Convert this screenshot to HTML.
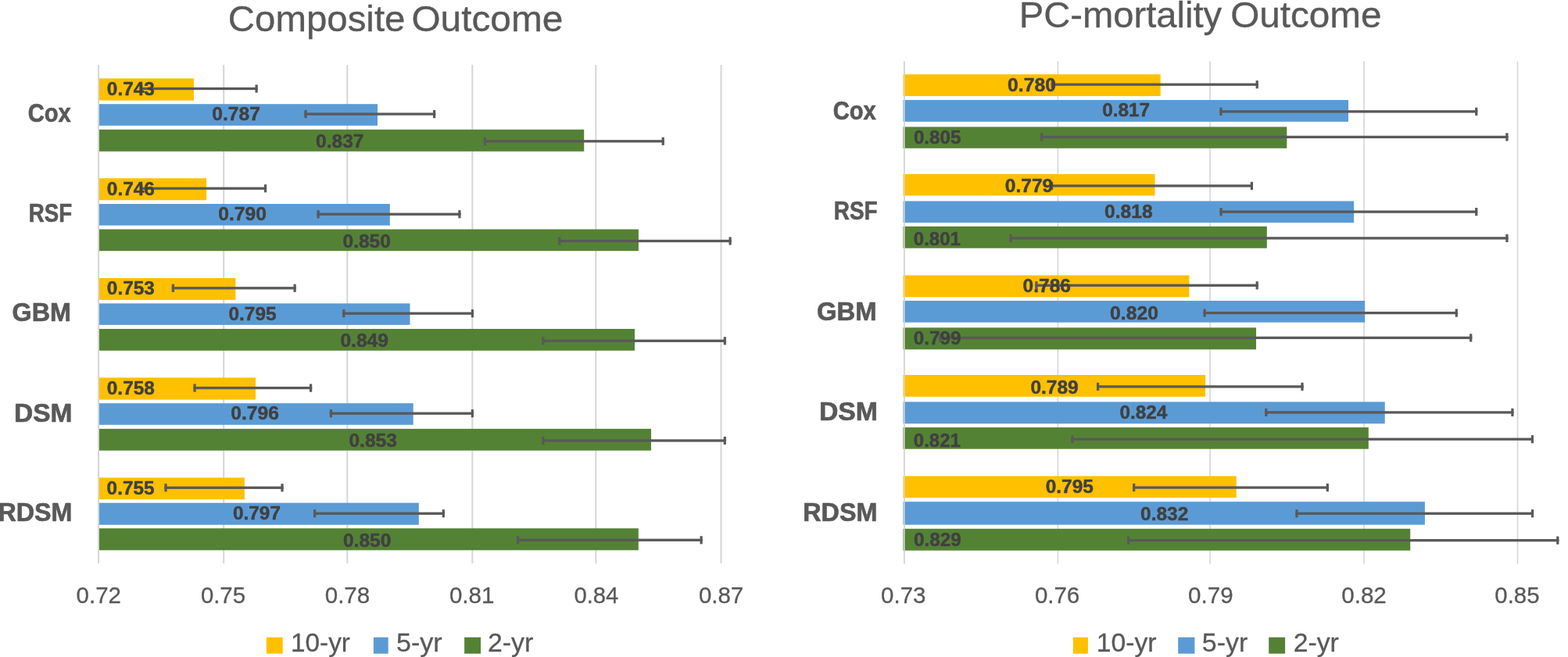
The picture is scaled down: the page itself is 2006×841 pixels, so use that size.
<!DOCTYPE html>
<html lang="en">
<head>
<meta charset="utf-8">
<title>Composite Outcome / PC-mortality Outcome</title>
<style>
html,body{margin:0;padding:0;background:#fff;}
body{width:2006px;height:841px;overflow:hidden;}
svg{display:block;}
svg text{font-family:"Liberation Sans",sans-serif;}
</style>
</head>
<body>
<svg width="2006" height="841" viewBox="0 0 2006 841">
<rect x="0" y="0" width="2006" height="841" fill="#ffffff"/>
<g id="chart0">
<g class="grid">
<path d="M126.10 83.00V721.30" stroke="#D6D6D6" stroke-width="2.0" fill="none"/>
<path d="M286.20 83.00V721.30" stroke="#D6D6D6" stroke-width="2.0" fill="none"/>
<path d="M444.30 83.00V721.30" stroke="#D6D6D6" stroke-width="2.0" fill="none"/>
<path d="M604.30 83.00V721.30" stroke="#D6D6D6" stroke-width="2.0" fill="none"/>
<path d="M762.30 83.00V721.30" stroke="#D6D6D6" stroke-width="2.0" fill="none"/>
<path d="M922.50 83.00V721.30" stroke="#D6D6D6" stroke-width="2.0" fill="none"/>
</g>
<g class="bars">
<rect x="127.00" y="100.40" width="121.00" height="28.20" fill="#FFC000"/>
<rect x="127.00" y="133.20" width="356.00" height="27.60" fill="#5B9BD5"/>
<rect x="127.00" y="165.80" width="620.20" height="28.00" fill="#548235"/>
<rect x="127.00" y="228.20" width="137.10" height="28.00" fill="#FFC000"/>
<rect x="127.00" y="261.00" width="371.80" height="27.60" fill="#5B9BD5"/>
<rect x="127.00" y="293.50" width="689.90" height="27.70" fill="#548235"/>
<rect x="127.00" y="356.00" width="174.40" height="27.90" fill="#FFC000"/>
<rect x="127.00" y="388.40" width="397.50" height="27.50" fill="#5B9BD5"/>
<rect x="127.00" y="421.00" width="685.00" height="27.80" fill="#548235"/>
<rect x="127.00" y="483.40" width="200.00" height="28.20" fill="#FFC000"/>
<rect x="127.00" y="516.20" width="401.70" height="27.60" fill="#5B9BD5"/>
<rect x="127.00" y="548.90" width="706.00" height="27.80" fill="#548235"/>
<rect x="127.00" y="611.40" width="185.90" height="27.80" fill="#FFC000"/>
<rect x="127.00" y="643.70" width="408.80" height="28.10" fill="#5B9BD5"/>
<rect x="127.00" y="676.30" width="689.80" height="28.00" fill="#548235"/>
</g>
<g class="errorbars">
<rect x="179.10" y="111.85" width="150.60" height="3.30" fill="#595959"/>
<rect x="179.10" y="108.40" width="3.20" height="10.20" fill="#595959"/>
<rect x="326.50" y="108.40" width="3.20" height="10.20" fill="#595959"/>
<rect x="389.40" y="144.35" width="167.80" height="3.30" fill="#595959"/>
<rect x="389.40" y="140.90" width="3.20" height="10.20" fill="#595959"/>
<rect x="554.00" y="140.90" width="3.20" height="10.20" fill="#595959"/>
<rect x="618.80" y="179.15" width="231.00" height="3.30" fill="#595959"/>
<rect x="618.80" y="175.70" width="3.20" height="10.20" fill="#595959"/>
<rect x="846.60" y="175.70" width="3.20" height="10.20" fill="#595959"/>
<rect x="179.10" y="239.55" width="162.00" height="3.30" fill="#595959"/>
<rect x="179.10" y="236.10" width="3.20" height="10.20" fill="#595959"/>
<rect x="337.90" y="236.10" width="3.20" height="10.20" fill="#595959"/>
<rect x="405.50" y="272.55" width="184.00" height="3.30" fill="#595959"/>
<rect x="405.50" y="269.10" width="3.20" height="10.20" fill="#595959"/>
<rect x="586.30" y="269.10" width="3.20" height="10.20" fill="#595959"/>
<rect x="714.20" y="306.85" width="221.50" height="3.30" fill="#595959"/>
<rect x="714.20" y="303.40" width="3.20" height="10.20" fill="#595959"/>
<rect x="932.50" y="303.40" width="3.20" height="10.20" fill="#595959"/>
<rect x="219.80" y="367.15" width="158.90" height="3.30" fill="#595959"/>
<rect x="219.80" y="363.70" width="3.20" height="10.20" fill="#595959"/>
<rect x="375.50" y="363.70" width="3.20" height="10.20" fill="#595959"/>
<rect x="438.20" y="399.55" width="167.80" height="3.30" fill="#595959"/>
<rect x="438.20" y="396.10" width="3.20" height="10.20" fill="#595959"/>
<rect x="602.80" y="396.10" width="3.20" height="10.20" fill="#595959"/>
<rect x="693.20" y="434.65" width="235.70" height="3.30" fill="#595959"/>
<rect x="693.20" y="431.20" width="3.20" height="10.20" fill="#595959"/>
<rect x="925.70" y="431.20" width="3.20" height="10.20" fill="#595959"/>
<rect x="247.50" y="494.95" width="151.70" height="3.30" fill="#595959"/>
<rect x="247.50" y="491.50" width="3.20" height="10.20" fill="#595959"/>
<rect x="396.00" y="491.50" width="3.20" height="10.20" fill="#595959"/>
<rect x="421.80" y="527.55" width="184.10" height="3.30" fill="#595959"/>
<rect x="421.80" y="524.10" width="3.20" height="10.20" fill="#595959"/>
<rect x="602.70" y="524.10" width="3.20" height="10.20" fill="#595959"/>
<rect x="693.20" y="562.35" width="235.70" height="3.30" fill="#595959"/>
<rect x="693.20" y="558.90" width="3.20" height="10.20" fill="#595959"/>
<rect x="925.70" y="558.90" width="3.20" height="10.20" fill="#595959"/>
<rect x="210.40" y="622.65" width="152.20" height="3.30" fill="#595959"/>
<rect x="210.40" y="619.20" width="3.20" height="10.20" fill="#595959"/>
<rect x="359.40" y="619.20" width="3.20" height="10.20" fill="#595959"/>
<rect x="401.00" y="655.65" width="167.90" height="3.30" fill="#595959"/>
<rect x="401.00" y="652.20" width="3.20" height="10.20" fill="#595959"/>
<rect x="565.70" y="652.20" width="3.20" height="10.20" fill="#595959"/>
<rect x="660.90" y="689.65" width="237.80" height="3.30" fill="#595959"/>
<rect x="660.90" y="686.20" width="3.20" height="10.20" fill="#595959"/>
<rect x="895.50" y="686.20" width="3.20" height="10.20" fill="#595959"/>
</g>
<g class="labels">
<text x="136.86" y="121.70" font-size="23.2" fill="#404040" font-weight="bold" textLength="61.00" lengthAdjust="spacingAndGlyphs" stroke="#404040" stroke-width="0.45" stroke-linejoin="round">0.743</text>
<text x="271.28" y="154.20" font-size="23.2" fill="#404040" font-weight="bold" textLength="61.61" lengthAdjust="spacingAndGlyphs" stroke="#404040" stroke-width="0.45" stroke-linejoin="round">0.787</text>
<text x="404.01" y="189.20" font-size="23.2" fill="#404040" font-weight="bold" textLength="61.45" lengthAdjust="spacingAndGlyphs" stroke="#404040" stroke-width="0.45" stroke-linejoin="round">0.837</text>
<text x="136.83" y="249.60" font-size="23.2" fill="#404040" font-weight="bold" textLength="61.07" lengthAdjust="spacingAndGlyphs" stroke="#404040" stroke-width="0.45" stroke-linejoin="round">0.746</text>
<text x="279.28" y="281.90" font-size="23.2" fill="#404040" font-weight="bold" textLength="61.75" lengthAdjust="spacingAndGlyphs" stroke="#404040" stroke-width="0.45" stroke-linejoin="round">0.790</text>
<text x="438.51" y="316.50" font-size="23.2" fill="#404040" font-weight="bold" textLength="61.36" lengthAdjust="spacingAndGlyphs" stroke="#404040" stroke-width="0.45" stroke-linejoin="round">0.850</text>
<text x="136.86" y="377.00" font-size="23.2" fill="#404040" font-weight="bold" textLength="61.00" lengthAdjust="spacingAndGlyphs" stroke="#404040" stroke-width="0.45" stroke-linejoin="round">0.753</text>
<text x="292.41" y="409.50" font-size="23.2" fill="#404040" font-weight="bold" textLength="61.18" lengthAdjust="spacingAndGlyphs" stroke="#404040" stroke-width="0.45" stroke-linejoin="round">0.795</text>
<text x="435.41" y="444.10" font-size="23.2" fill="#404040" font-weight="bold" textLength="61.58" lengthAdjust="spacingAndGlyphs" stroke="#404040" stroke-width="0.45" stroke-linejoin="round">0.849</text>
<text x="136.77" y="505.20" font-size="23.2" fill="#404040" font-weight="bold" textLength="61.15" lengthAdjust="spacingAndGlyphs" stroke="#404040" stroke-width="0.45" stroke-linejoin="round">0.758</text>
<text x="295.21" y="537.20" font-size="23.2" fill="#404040" font-weight="bold" textLength="61.67" lengthAdjust="spacingAndGlyphs" stroke="#404040" stroke-width="0.45" stroke-linejoin="round">0.796</text>
<text x="446.41" y="572.10" font-size="23.2" fill="#404040" font-weight="bold" textLength="61.52" lengthAdjust="spacingAndGlyphs" stroke="#404040" stroke-width="0.45" stroke-linejoin="round">0.853</text>
<text x="136.63" y="633.00" font-size="23.2" fill="#404040" font-weight="bold" textLength="60.82" lengthAdjust="spacingAndGlyphs" stroke="#404040" stroke-width="0.45" stroke-linejoin="round">0.755</text>
<text x="297.90" y="665.00" font-size="23.2" fill="#404040" font-weight="bold" textLength="61.06" lengthAdjust="spacingAndGlyphs" stroke="#404040" stroke-width="0.45" stroke-linejoin="round">0.797</text>
<text x="438.95" y="700.00" font-size="23.2" fill="#404040" font-weight="bold" textLength="61.40" lengthAdjust="spacingAndGlyphs" stroke="#404040" stroke-width="0.45" stroke-linejoin="round">0.850</text>
</g>
<text y="40.30" font-size="47" fill="#595959" stroke="#595959" stroke-width="0.35" stroke-linejoin="round"><tspan x="291.87" textLength="226.57" lengthAdjust="spacingAndGlyphs">Composite</tspan> <tspan x="526.42" textLength="193.85" lengthAdjust="spacingAndGlyphs">Outcome</tspan></text>
<g class="categories">
<text x="35.73" y="156.40" font-size="34" fill="#595959" font-weight="bold" textLength="55.05" lengthAdjust="spacingAndGlyphs" stroke="#595959" stroke-width="0.7" stroke-linejoin="round">Cox</text>
<text x="36.84" y="283.90" font-size="34" fill="#595959" font-weight="bold" textLength="55.29" lengthAdjust="spacingAndGlyphs" stroke="#595959" stroke-width="0.7" stroke-linejoin="round">RSF</text>
<text x="15.59" y="411.40" font-size="34" fill="#595959" font-weight="bold" textLength="75.39" lengthAdjust="spacingAndGlyphs" stroke="#595959" stroke-width="0.7" stroke-linejoin="round">GBM</text>
<text x="18.02" y="539.90" font-size="34" fill="#595959" font-weight="bold" textLength="74.51" lengthAdjust="spacingAndGlyphs" stroke="#595959" stroke-width="0.7" stroke-linejoin="round">DSM</text>
<text x="-2.57" y="667.20" font-size="34" fill="#595959" font-weight="bold" textLength="94.97" lengthAdjust="spacingAndGlyphs" stroke="#595959" stroke-width="0.7" stroke-linejoin="round">RDSM</text>
</g>
<g class="ticks">
<text x="97.60" y="772.00" font-size="30.0" fill="#595959" textLength="57.44" lengthAdjust="spacingAndGlyphs" stroke="#595959" stroke-width="0.3" stroke-linejoin="round">0.72</text>
<text x="256.88" y="772.00" font-size="30.0" fill="#595959" textLength="57.11" lengthAdjust="spacingAndGlyphs" stroke="#595959" stroke-width="0.3" stroke-linejoin="round">0.75</text>
<text x="415.75" y="772.00" font-size="30.0" fill="#595959" textLength="57.43" lengthAdjust="spacingAndGlyphs" stroke="#595959" stroke-width="0.3" stroke-linejoin="round">0.78</text>
<text x="574.89" y="772.00" font-size="30.0" fill="#595959" textLength="57.49" lengthAdjust="spacingAndGlyphs" stroke="#595959" stroke-width="0.3" stroke-linejoin="round">0.81</text>
<text x="734.48" y="772.00" font-size="30.0" fill="#595959" textLength="56.78" lengthAdjust="spacingAndGlyphs" stroke="#595959" stroke-width="0.3" stroke-linejoin="round">0.84</text>
<text x="893.89" y="772.00" font-size="30.0" fill="#595959" textLength="57.37" lengthAdjust="spacingAndGlyphs" stroke="#595959" stroke-width="0.3" stroke-linejoin="round">0.87</text>
</g>
<g class="legend">
<rect x="340.80" y="815.80" width="20.90" height="20.90" fill="#FFC000"/>
<text x="371.97" y="834.30" font-size="33" fill="#595959" textLength="75.99" lengthAdjust="spacingAndGlyphs" stroke="#595959" stroke-width="0.3" stroke-linejoin="round">10-yr</text>
<rect x="477.90" y="815.80" width="18.80" height="20.90" fill="#5B9BD5"/>
<text x="506.92" y="834.30" font-size="33" fill="#595959" textLength="58.77" lengthAdjust="spacingAndGlyphs" stroke="#595959" stroke-width="0.3" stroke-linejoin="round">5-yr</text>
<rect x="594.10" y="815.80" width="20.90" height="20.90" fill="#548235"/>
<text x="624.01" y="834.30" font-size="33" fill="#595959" textLength="58.16" lengthAdjust="spacingAndGlyphs" stroke="#595959" stroke-width="0.3" stroke-linejoin="round">2-yr</text>
</g>
</g>
<g id="chart1">
<g class="grid">
<path d="M1156.80 78.20V721.80" stroke="#D6D6D6" stroke-width="1.6" fill="none"/>
<path d="M1353.40 78.20V721.80" stroke="#D6D6D6" stroke-width="1.6" fill="none"/>
<path d="M1548.10 78.20V721.80" stroke="#D6D6D6" stroke-width="1.6" fill="none"/>
<path d="M1745.10 78.20V721.80" stroke="#D6D6D6" stroke-width="1.6" fill="none"/>
<path d="M1941.50 78.20V721.80" stroke="#D6D6D6" stroke-width="1.6" fill="none"/>
</g>
<g class="bars">
<rect x="1155.40" y="95.20" width="329.30" height="27.80" fill="#FFC000"/>
<rect x="1155.40" y="128.00" width="569.60" height="27.80" fill="#5B9BD5"/>
<rect x="1155.40" y="162.40" width="490.90" height="27.40" fill="#548235"/>
<rect x="1155.40" y="222.80" width="322.10" height="27.60" fill="#FFC000"/>
<rect x="1155.40" y="257.40" width="576.70" height="27.60" fill="#5B9BD5"/>
<rect x="1155.40" y="289.80" width="465.40" height="27.90" fill="#548235"/>
<rect x="1155.40" y="352.40" width="366.00" height="27.90" fill="#FFC000"/>
<rect x="1155.40" y="385.00" width="590.80" height="27.70" fill="#5B9BD5"/>
<rect x="1155.40" y="419.40" width="451.60" height="27.90" fill="#548235"/>
<rect x="1155.40" y="480.00" width="386.70" height="27.80" fill="#FFC000"/>
<rect x="1155.40" y="514.40" width="616.30" height="27.90" fill="#5B9BD5"/>
<rect x="1155.40" y="547.10" width="595.40" height="27.60" fill="#548235"/>
<rect x="1155.40" y="609.40" width="426.30" height="27.80" fill="#FFC000"/>
<rect x="1155.40" y="642.20" width="667.50" height="29.50" fill="#5B9BD5"/>
<rect x="1155.40" y="676.80" width="648.80" height="27.90" fill="#548235"/>
</g>
<path d="M1156.80 78.20V721.80" stroke="#D6D6D6" stroke-width="1.6" fill="none"/>
<g class="errorbars">
<rect x="1344.60" y="106.55" width="265.20" height="3.30" fill="#595959"/>
<rect x="1344.60" y="103.10" width="3.20" height="10.20" fill="#595959"/>
<rect x="1606.60" y="103.10" width="3.20" height="10.20" fill="#595959"/>
<rect x="1560.40" y="141.15" width="329.90" height="3.30" fill="#595959"/>
<rect x="1560.40" y="137.70" width="3.20" height="10.20" fill="#595959"/>
<rect x="1887.10" y="137.70" width="3.20" height="10.20" fill="#595959"/>
<rect x="1331.00" y="173.75" width="598.50" height="3.30" fill="#595959"/>
<rect x="1331.00" y="170.30" width="3.20" height="10.20" fill="#595959"/>
<rect x="1926.30" y="170.30" width="3.20" height="10.20" fill="#595959"/>
<rect x="1344.00" y="236.25" width="259.00" height="3.30" fill="#595959"/>
<rect x="1344.00" y="232.80" width="3.20" height="10.20" fill="#595959"/>
<rect x="1599.80" y="232.80" width="3.20" height="10.20" fill="#595959"/>
<rect x="1560.50" y="269.45" width="329.80" height="3.30" fill="#595959"/>
<rect x="1560.50" y="266.00" width="3.20" height="10.20" fill="#595959"/>
<rect x="1887.10" y="266.00" width="3.20" height="10.20" fill="#595959"/>
<rect x="1291.50" y="303.25" width="638.00" height="3.30" fill="#595959"/>
<rect x="1291.50" y="299.80" width="3.20" height="10.20" fill="#595959"/>
<rect x="1926.30" y="299.80" width="3.20" height="10.20" fill="#595959"/>
<rect x="1324.30" y="363.65" width="285.50" height="3.30" fill="#595959"/>
<rect x="1324.30" y="360.20" width="3.20" height="10.20" fill="#595959"/>
<rect x="1606.60" y="360.20" width="3.20" height="10.20" fill="#595959"/>
<rect x="1539.50" y="398.95" width="325.40" height="3.30" fill="#595959"/>
<rect x="1539.50" y="395.50" width="3.20" height="10.20" fill="#595959"/>
<rect x="1861.70" y="395.50" width="3.20" height="10.20" fill="#595959"/>
<rect x="1201.20" y="430.75" width="682.10" height="3.30" fill="#595959"/>
<rect x="1201.20" y="427.30" width="3.20" height="10.20" fill="#595959"/>
<rect x="1880.10" y="427.30" width="3.20" height="10.20" fill="#595959"/>
<rect x="1403.00" y="493.25" width="264.60" height="3.30" fill="#595959"/>
<rect x="1403.00" y="489.80" width="3.20" height="10.20" fill="#595959"/>
<rect x="1664.40" y="489.80" width="3.20" height="10.20" fill="#595959"/>
<rect x="1618.20" y="526.25" width="318.30" height="3.30" fill="#595959"/>
<rect x="1618.20" y="522.80" width="3.20" height="10.20" fill="#595959"/>
<rect x="1933.30" y="522.80" width="3.20" height="10.20" fill="#595959"/>
<rect x="1370.30" y="560.55" width="591.70" height="3.30" fill="#595959"/>
<rect x="1370.30" y="557.10" width="3.20" height="10.20" fill="#595959"/>
<rect x="1958.80" y="557.10" width="3.20" height="10.20" fill="#595959"/>
<rect x="1449.10" y="622.45" width="250.80" height="3.30" fill="#595959"/>
<rect x="1449.10" y="619.00" width="3.20" height="10.20" fill="#595959"/>
<rect x="1696.70" y="619.00" width="3.20" height="10.20" fill="#595959"/>
<rect x="1657.40" y="655.65" width="304.70" height="3.30" fill="#595959"/>
<rect x="1657.40" y="652.20" width="3.20" height="10.20" fill="#595959"/>
<rect x="1958.90" y="652.20" width="3.20" height="10.20" fill="#595959"/>
<rect x="1442.00" y="690.05" width="552.40" height="3.30" fill="#595959"/>
<rect x="1442.00" y="686.60" width="3.20" height="10.20" fill="#595959"/>
<rect x="1991.20" y="686.60" width="3.20" height="10.20" fill="#595959"/>
</g>
<g class="labels">
<text x="1289.11" y="116.60" font-size="23.2" fill="#404040" font-weight="bold" textLength="61.76" lengthAdjust="spacingAndGlyphs" stroke="#404040" stroke-width="0.45" stroke-linejoin="round">0.780</text>
<text x="1410.22" y="149.40" font-size="23.2" fill="#404040" font-weight="bold" textLength="60.91" lengthAdjust="spacingAndGlyphs" stroke="#404040" stroke-width="0.45" stroke-linejoin="round">0.817</text>
<text x="1168.93" y="184.40" font-size="23.2" fill="#404040" font-weight="bold" textLength="60.51" lengthAdjust="spacingAndGlyphs" stroke="#404040" stroke-width="0.45" stroke-linejoin="round">0.805</text>
<text x="1285.79" y="246.20" font-size="23.2" fill="#404040" font-weight="bold" textLength="61.45" lengthAdjust="spacingAndGlyphs" stroke="#404040" stroke-width="0.45" stroke-linejoin="round">0.779</text>
<text x="1413.14" y="279.20" font-size="23.2" fill="#404040" font-weight="bold" textLength="61.51" lengthAdjust="spacingAndGlyphs" stroke="#404040" stroke-width="0.45" stroke-linejoin="round">0.818</text>
<text x="1168.87" y="314.00" font-size="23.2" fill="#404040" font-weight="bold" textLength="60.03" lengthAdjust="spacingAndGlyphs" stroke="#404040" stroke-width="0.45" stroke-linejoin="round">0.801</text>
<text x="1308.64" y="373.60" font-size="23.2" fill="#404040" font-weight="bold" textLength="61.23" lengthAdjust="spacingAndGlyphs" stroke="#404040" stroke-width="0.45" stroke-linejoin="round">0.786</text>
<text x="1420.11" y="409.20" font-size="23.2" fill="#404040" font-weight="bold" textLength="61.76" lengthAdjust="spacingAndGlyphs" stroke="#404040" stroke-width="0.45" stroke-linejoin="round">0.820</text>
<text x="1168.83" y="441.40" font-size="23.2" fill="#404040" font-weight="bold" textLength="60.69" lengthAdjust="spacingAndGlyphs" stroke="#404040" stroke-width="0.45" stroke-linejoin="round">0.799</text>
<text x="1318.42" y="503.60" font-size="23.2" fill="#404040" font-weight="bold" textLength="61.23" lengthAdjust="spacingAndGlyphs" stroke="#404040" stroke-width="0.45" stroke-linejoin="round">0.789</text>
<text x="1432.42" y="535.90" font-size="23.2" fill="#404040" font-weight="bold" textLength="60.90" lengthAdjust="spacingAndGlyphs" stroke="#404040" stroke-width="0.45" stroke-linejoin="round">0.824</text>
<text x="1168.87" y="571.60" font-size="23.2" fill="#404040" font-weight="bold" textLength="60.03" lengthAdjust="spacingAndGlyphs" stroke="#404040" stroke-width="0.45" stroke-linejoin="round">0.821</text>
<text x="1337.77" y="630.80" font-size="23.2" fill="#404040" font-weight="bold" textLength="61.09" lengthAdjust="spacingAndGlyphs" stroke="#404040" stroke-width="0.45" stroke-linejoin="round">0.795</text>
<text x="1459.14" y="665.50" font-size="23.2" fill="#404040" font-weight="bold" textLength="61.21" lengthAdjust="spacingAndGlyphs" stroke="#404040" stroke-width="0.45" stroke-linejoin="round">0.832</text>
<text x="1168.92" y="699.00" font-size="23.2" fill="#404040" font-weight="bold" textLength="60.90" lengthAdjust="spacingAndGlyphs" stroke="#404040" stroke-width="0.45" stroke-linejoin="round">0.829</text>
</g>
<text y="35.30" font-size="47" fill="#595959" stroke="#595959" stroke-width="0.35" stroke-linejoin="round"><tspan x="1303.89" textLength="259.24" lengthAdjust="spacingAndGlyphs">PC-mortality</tspan> <tspan x="1574.17" textLength="193.31" lengthAdjust="spacingAndGlyphs">Outcome</tspan></text>
<g class="categories">
<text x="1065.75" y="152.80" font-size="34" fill="#595959" font-weight="bold" textLength="55.09" lengthAdjust="spacingAndGlyphs" stroke="#595959" stroke-width="0.7" stroke-linejoin="round">Cox</text>
<text x="1066.86" y="281.00" font-size="34" fill="#595959" font-weight="bold" textLength="55.74" lengthAdjust="spacingAndGlyphs" stroke="#595959" stroke-width="0.7" stroke-linejoin="round">RSF</text>
<text x="1045.08" y="410.00" font-size="34" fill="#595959" font-weight="bold" textLength="76.32" lengthAdjust="spacingAndGlyphs" stroke="#595959" stroke-width="0.7" stroke-linejoin="round">GBM</text>
<text x="1047.93" y="538.00" font-size="34" fill="#595959" font-weight="bold" textLength="75.04" lengthAdjust="spacingAndGlyphs" stroke="#595959" stroke-width="0.7" stroke-linejoin="round">DSM</text>
<text x="1027.29" y="666.90" font-size="34" fill="#595959" font-weight="bold" textLength="95.09" lengthAdjust="spacingAndGlyphs" stroke="#595959" stroke-width="0.7" stroke-linejoin="round">RDSM</text>
</g>
<g class="ticks">
<text x="1127.09" y="772.00" font-size="30.0" fill="#595959" textLength="57.39" lengthAdjust="spacingAndGlyphs" stroke="#595959" stroke-width="0.3" stroke-linejoin="round">0.73</text>
<text x="1323.88" y="772.00" font-size="30.0" fill="#595959" textLength="57.40" lengthAdjust="spacingAndGlyphs" stroke="#595959" stroke-width="0.3" stroke-linejoin="round">0.76</text>
<text x="1520.12" y="772.00" font-size="30.0" fill="#595959" textLength="57.51" lengthAdjust="spacingAndGlyphs" stroke="#595959" stroke-width="0.3" stroke-linejoin="round">0.79</text>
<text x="1716.31" y="772.00" font-size="30.0" fill="#595959" textLength="57.47" lengthAdjust="spacingAndGlyphs" stroke="#595959" stroke-width="0.3" stroke-linejoin="round">0.82</text>
<text x="1912.37" y="772.00" font-size="30.0" fill="#595959" textLength="57.10" lengthAdjust="spacingAndGlyphs" stroke="#595959" stroke-width="0.3" stroke-linejoin="round">0.85</text>
</g>
<g class="legend">
<rect x="1372.90" y="815.80" width="19.00" height="20.90" fill="#FFC000"/>
<text x="1402.68" y="834.30" font-size="33" fill="#595959" textLength="76.79" lengthAdjust="spacingAndGlyphs" stroke="#595959" stroke-width="0.3" stroke-linejoin="round">10-yr</text>
<rect x="1507.20" y="815.80" width="21.20" height="20.90" fill="#5B9BD5"/>
<text x="1537.82" y="834.30" font-size="33" fill="#595959" textLength="58.46" lengthAdjust="spacingAndGlyphs" stroke="#595959" stroke-width="0.3" stroke-linejoin="round">5-yr</text>
<rect x="1623.20" y="815.80" width="20.90" height="20.90" fill="#548235"/>
<text x="1654.67" y="834.30" font-size="33" fill="#595959" textLength="58.09" lengthAdjust="spacingAndGlyphs" stroke="#595959" stroke-width="0.3" stroke-linejoin="round">2-yr</text>
</g>
</g>
</svg>
</body>
</html>
